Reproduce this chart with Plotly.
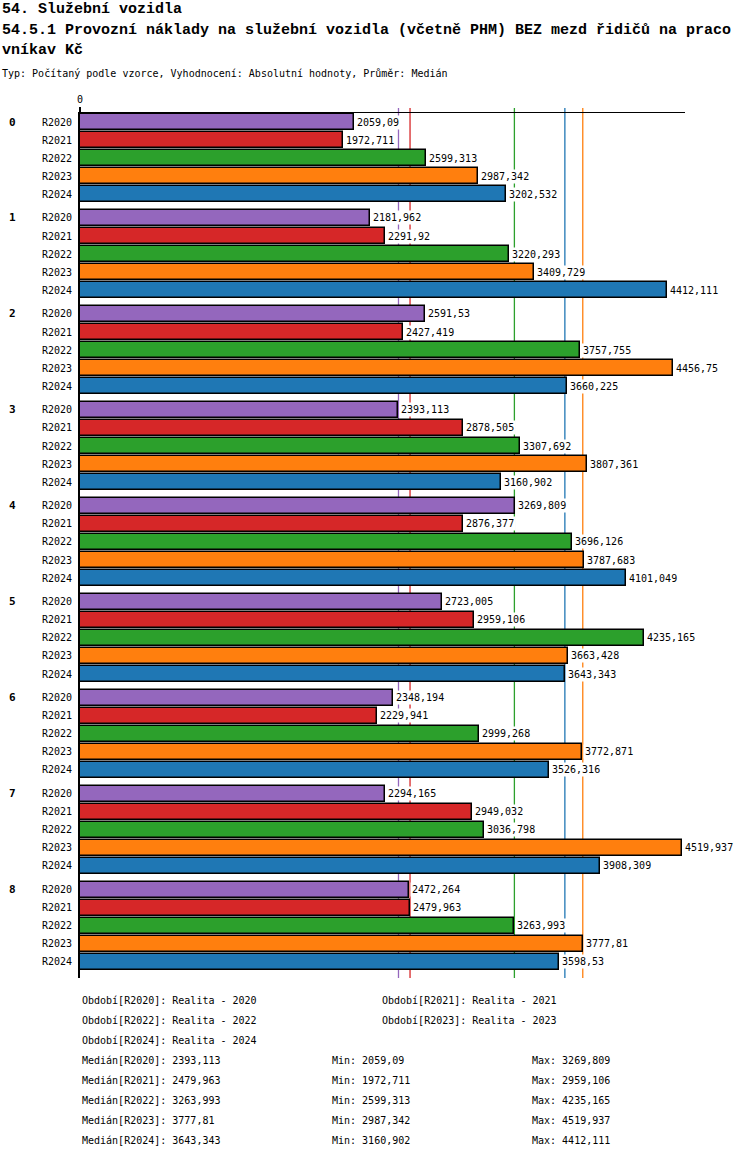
"""
    Služební vozidla: provozní náklady (horizontal grouped bars)
"""
import numpy as np
import plotly.graph_objects as go

# Data
groups = ["0", "1", "2", "3", "4", "5", "6", "7", "8"]
periods = ["R2020", "R2021", "R2022", "R2023", "R2024"]
period_names = ["Realita - 2020", "Realita - 2021", "Realita - 2022",
                "Realita - 2023", "Realita - 2024"]

r2020 = [2059.09, 2181.962, 2591.53, 2393.113, 3269.809, 2723.005, 2348.194, 2294.165, 2472.264]
r2021 = [1972.711, 2291.92, 2427.419, 2878.505, 2876.377, 2959.106, 2229.941, 2949.032, 2479.963]
r2022 = [2599.313, 3220.293, 3757.755, 3307.692, 3696.126, 4235.165, 2999.268, 3036.798, 3263.993]
r2023 = [2987.342, 3409.729, 4456.75, 3807.361, 3787.683, 3663.428, 3772.871, 4519.937, 3777.81]
r2024 = [3202.532, 4412.111, 3660.225, 3160.902, 4101.049, 3643.343, 3526.316, 3908.309, 3598.53]

series = [r2020, r2021, r2022, r2023, r2024]
colors = ["#9467bd", "#d62728", "#2ca02c", "#ff7f0e", "#1f77b4"]

TITLE1 = "54. Služební vozidla"
TITLE2 = "54.5.1 Provozní náklady na služební vozidla (včetně PHM) BEZ mezd řidičů na praco"
TITLE3 = "vníkav Kč"
SUBTITLE = "Typ: Počítaný podle vzorce, Vyhodnocení: Absolutní hodnoty, Průměr: Medián"

# Layout geometry (pixels)
W, H = 750, 1158
PL, PR, PT, PB = 80, 685, 113, 978
GROUP_STEP = 95.9 / 18   # in bar slots
MONO = "DejaVu Sans Mono"


def fmt(v):
    """ Czech decimal comma """
    s = ("%.3f" % v).rstrip("0").rstrip(".")
    return s.replace(".", ",")


def xp(xpx):
    return (xpx - PL) / (PR - PL)


def yp(ypx):
    return (PB - ypx) / (PB - PT)


fig = go.Figure()
annotations = []
shapes = []

for j, (per, vals, col) in enumerate(zip(periods, series, colors)):
    pos = [g * GROUP_STEP + j for g in range(len(groups))]
    fig.add_trace(go.Bar(
        x=vals, y=pos, orientation="h", name=per,
        marker=dict(color=col, line=dict(color="black", width=1.5)),
        width=0.86, showlegend=False, hoverinfo="x",
    ))
    for v, p in zip(vals, pos):
        annotations.append(dict(
            x=v, y=p, xref="x", yref="y", text=fmt(v), showarrow=False,
            xanchor="left", yanchor="middle", xshift=1, bgcolor="white",
            borderpad=1, font=dict(family=MONO, size=10, color="black")))
    # median line
    med = float(np.median(vals))
    shapes.append(dict(type="line", xref="x", yref="paper", x0=med, x1=med,
                       y0=0, y1=yp(PT - 5), layer="below",
                       line=dict(color=col, width=1.3)))

# tick labels for every bar
tickvals, ticktext = [], []
for g in range(len(groups)):
    for j, per in enumerate(periods):
        tickvals.append(g * GROUP_STEP + j)
        ticktext.append(per)

# group labels
for g, name in enumerate(groups):
    annotations.append(dict(
        x=xp(12), y=g * GROUP_STEP, xref="paper", yref="y", text="<b>%s</b>" % name,
        showarrow=False, xanchor="center", yanchor="middle",
        font=dict(family=MONO, size=11, color="black")))

# header
for txt, ypx, size, bold in [(TITLE1, 9, 15, True), (TITLE2, 30, 15, True),
                             (TITLE3, 51, 15, True), (SUBTITLE, 73, 10, False)]:
    annotations.append(dict(
        x=xp(0), y=yp(ypx), xref="paper", yref="paper",
        text=("<b>%s</b>" % txt) if bold else txt, showarrow=False,
        xanchor="left", yanchor="middle",
        font=dict(family="Liberation Mono" if bold else MONO, size=size, color="black")))

# footer: periods and stats
foot = []
for j, (per, nm) in enumerate(zip(periods, period_names)):
    row, colx = divmod(j, 2)
    foot.append(("Období[%s]: %s" % (per, nm), 80 + colx * 300, 1000 + row * 20))
for j, (per, vals) in enumerate(zip(periods, series)):
    ypx = 1060 + j * 20
    foot.append(("Medián[%s]: %s" % (per, fmt(np.median(vals))), 80, ypx))
    foot.append(("Min: %s" % fmt(min(vals)), 330, ypx))
    foot.append(("Max: %s" % fmt(max(vals)), 530, ypx))
for txt, xpx, ypx in foot:
    annotations.append(dict(
        x=xp(xpx), y=yp(ypx), xref="paper", yref="paper", text=txt,
        showarrow=False, xanchor="left", yanchor="middle",
        font=dict(family=MONO, size=10, color="black")))

last = (len(groups) - 1) * GROUP_STEP + len(periods) - 1
fig.update_layout(
    width=W, height=H,
    margin=dict(l=PL, r=W - PR, t=PT, b=H - PB),
    paper_bgcolor="white", plot_bgcolor="white",
    annotations=annotations, shapes=shapes,
    bargap=0, showlegend=False,
    font=dict(family=MONO, size=10, color="black"),
    xaxis=dict(range=[0, 4546], side="top", showline=True, linecolor="black",
               linewidth=1, showgrid=False, zeroline=False,
               tickvals=[0], ticktext=["0"], ticks="outside", ticklen=5,
               tickwidth=2, tickcolor="black",
               tickfont=dict(family=MONO, size=10, color="black")),
    yaxis=dict(range=[last + 0.89, -0.5], showline=True, linecolor="black",
               linewidth=2, showgrid=False, zeroline=False,
               tickvals=tickvals, ticktext=ticktext, ticks="",
               ticklabelstandoff=4,
               tickfont=dict(family=MONO, size=10, color="black")),
)

# page body margin off so the chart sits at the window origin
fig.write_html("out.html", config={"displayModeBar": False},
               post_script="document.body.style.margin='0';")
